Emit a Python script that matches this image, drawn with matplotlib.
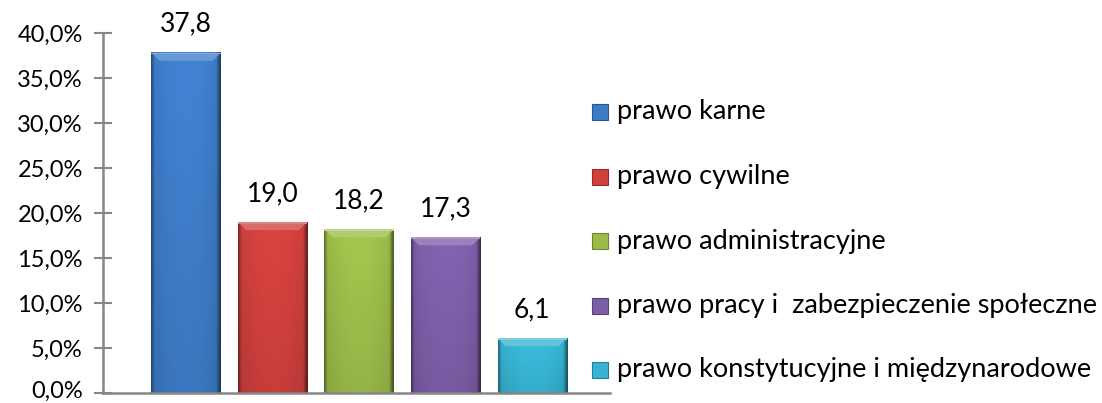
import numpy as np
import matplotlib
matplotlib.use("Agg")
import matplotlib.pyplot as plt
from matplotlib.patches import Polygon, Rectangle
from matplotlib.colors import to_rgb
from matplotlib.transforms import ScaledTranslation

categories = ["prawo karne", "prawo cywilne", "prawo administracyjne",
              "prawo pracy i  zabezpieczenie społeczne",
              "prawo konstytucyjne i międzynarodowe"]
values = [37.8, 19.0, 18.2, 17.3, 6.1]
value_labels = ["37,8", "19,0", "18,2", "17,3", "6,1"]
colors = ["#3E7CC8", "#CF403D", "#9CBC4A", "#7D5EA8", "#37B4D3"]
yticks = [0, 5, 10, 15, 20, 25, 30, 35, 40]
ytick_labels = ["0,0%", "5,0%", "10,0%", "15,0%", "20,0%", "25,0%", "30,0%", "35,0%", "40,0%"]

plt.rcParams['font.family'] = ['Lato', 'DejaVu Sans']

W, H = 1102, 403
fig = plt.figure(figsize=(W / 100, H / 100), dpi=100)
ax_l, ax_r, ax_t, ax_b = 103, 610, 33, 393
ax = fig.add_axes([ax_l / W, (H - ax_b) / H, (ax_r - ax_l) / W, (ax_b - ax_t) / H])

x = np.arange(len(values))
bw = 0.8
xmin, xmax = -0.96, 4.9
ax.set_xlim(xmin, xmax)
ax.set_ylim(0, 40)
px_x = (xmax - xmin) / (ax_r - ax_l)
px_y = 40 / (ax_b - ax_t)

def shade(c, f):
    r = np.array(to_rgb(c))
    if f >= 1:
        return tuple(r + (1 - r) * (f - 1))
    return tuple(r * f)

for xi, v, c, lab in zip(x, values, colors, value_labels):
    ax.bar(xi, v, width=bw, color=c, zorder=2)
    ncol = 64
    t = np.linspace(-1, 1, ncol)
    fac = 1.04 - 0.10 * t**2
    fac[:3] = [0.6, 0.72, 0.85]
    fac[-4:] = [0.85, 0.7, 0.58, 0.5]
    nrow = 40
    vt = np.linspace(0, 1, nrow)[:, None]
    img = np.zeros((nrow, ncol, 3))
    base = np.array(to_rgb(c))
    for k in range(3):
        img[:, :, k] = np.clip(base[k] * fac[None, :] * (1.02 - 0.1 * vt), 0, 1)
    ax.imshow(img, extent=(xi - bw / 2, xi + bw / 2, 0, v), aspect='auto',
              interpolation='bilinear', zorder=3)
    d = 8
    top = Polygon([(xi - bw / 2, v), (xi + bw / 2, v),
                   (xi + bw / 2 - d * px_x, v - d * px_y),
                   (xi - bw / 2 + d * px_x, v - d * px_y)],
                  closed=True, color=shade(c, 1.22), lw=0, zorder=4)
    ax.add_patch(top)
    ax.add_patch(Polygon([(xi - bw / 2, v), (xi + bw / 2, v),
                          (xi + bw / 2, v - 1.5 * px_y), (xi - bw / 2, v - 1.5 * px_y)],
                         closed=True, color=shade(c, 1.35), lw=0, zorder=5))
    ax.text(xi, v + 16 * px_y, lab, ha='center', va='bottom', fontsize=19,
            color='black', clip_on=False)

for s in ['top', 'right']:
    ax.spines[s].set_visible(False)
for s in ['left', 'bottom']:
    ax.spines[s].set_color('#868686')
    ax.spines[s].set_linewidth(1.8)
    ax.spines[s].set_zorder(6)
ax.set_xticks([])
ax.set_yticks(yticks)
ax.set_yticklabels(ytick_labels)
ax.tick_params(axis='y', direction='inout', length=13, width=1.5, color='#868686',
               labelsize=17, pad=8)
lbl0 = ax.get_yticklabels()[0]
lbl0.set_transform(lbl0.get_transform() + ScaledTranslation(0, 4 / 100, fig.dpi_scale_trans))

leg_y0, leg_dy = 112, 64.5
for i, (name, c) in enumerate(zip(categories, colors)):
    yc = leg_y0 + leg_dy * i
    size = 16
    fig.patches.append(Rectangle((592 / W, (H - yc - size / 2) / H), size / W, size / H,
                                 transform=fig.transFigure, facecolor=c,
                                 edgecolor=shade(c, 0.7), lw=0.8, figure=fig))
    fig.text(617 / W, (H - yc) / H, name, ha='left', va='center', fontsize=19.5,
             color='black')

fig.savefig("out.png", dpi=100)
